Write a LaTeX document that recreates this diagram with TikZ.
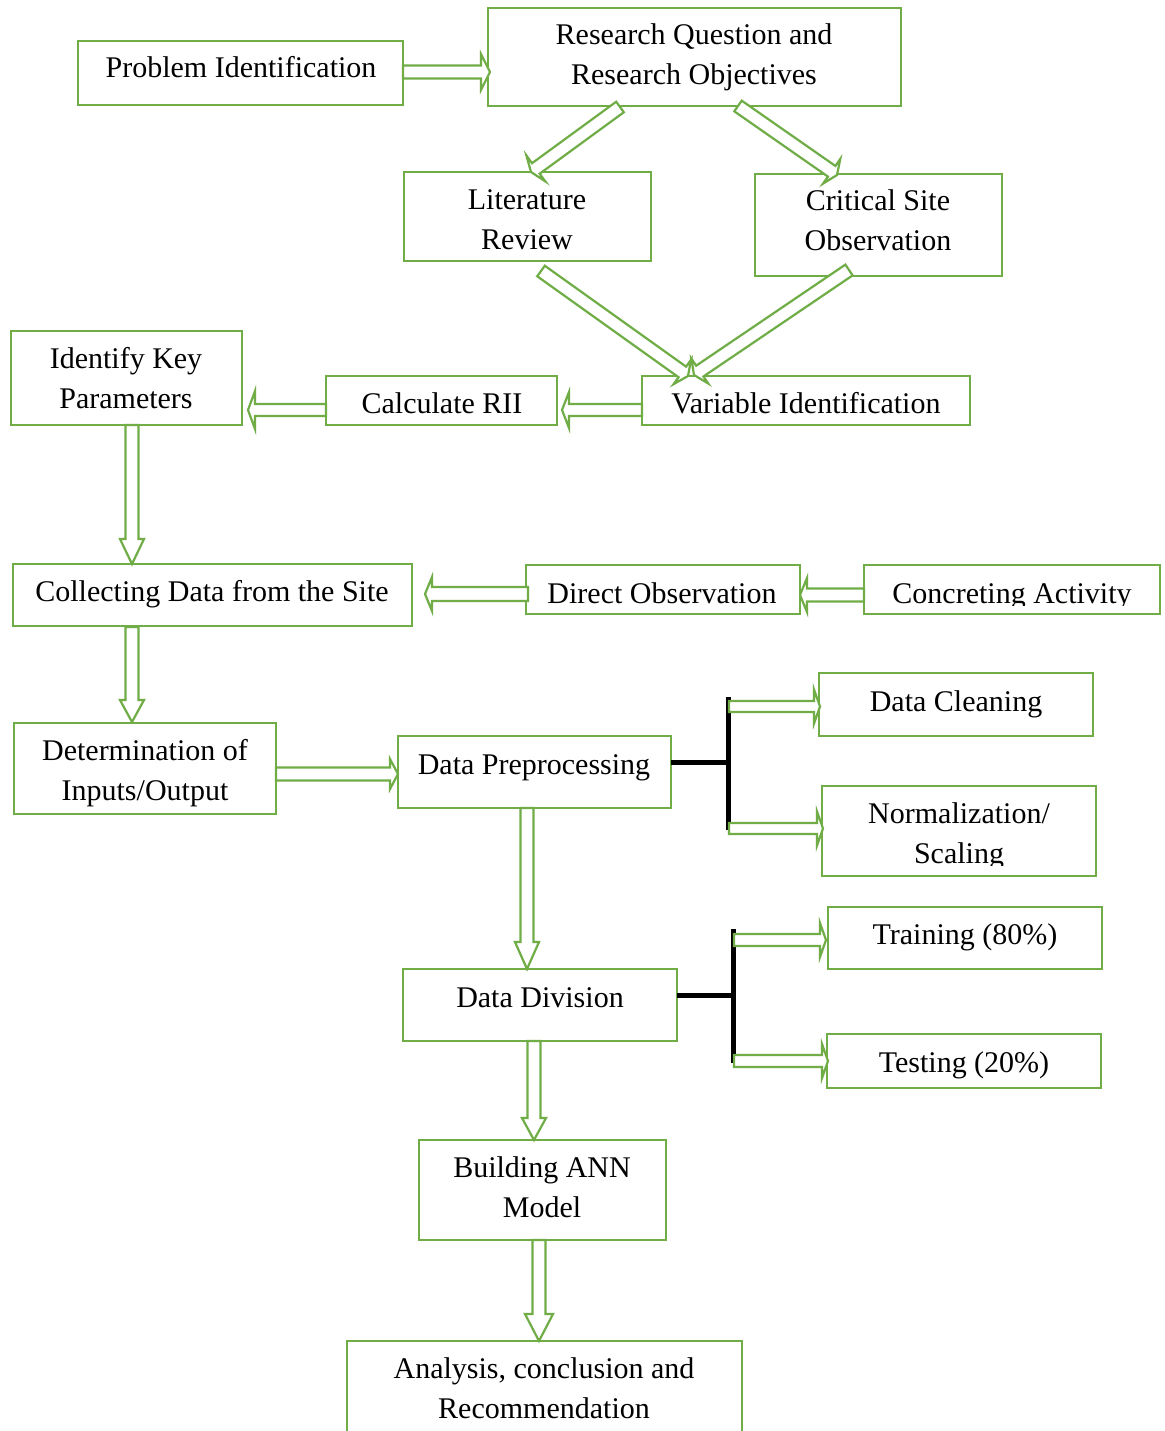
\documentclass[tikz,border=0pt]{standalone}
\usepackage{fontspec}
\setmainfont{Liberation Serif}
\usetikzlibrary{calc}

\definecolor{leaf}{HTML}{70AD47}

\tikzset{
  box/.style={draw=leaf, line width=2.2pt, rectangle, anchor=north west,
    inner sep=0pt, outer sep=0pt},
  label text/.style={font=\fontsize{30}{40}\selectfont, align=center,
    anchor=base, inner sep=0pt},
  hollow arrow/.style={draw=leaf, fill=white, line width=2.2pt, line join=miter},
  bracket/.style={draw=black, line width=5pt}
}

% hollow block arrow: tail, tip, shaft half-width, head half-width, head length
\newcommand\blockarrow[5]{%
  \coordinate (neck) at ($(#2)!#5!(#1)$);
  \path[hollow arrow]
    ($(#1)!#3!90:(#2)$) -- ($(neck)!#3!90:(#2)$) -- ($(neck)!#4!90:(#2)$)
    -- (#2) -- ($(neck)!#4!-90:(#2)$) -- ($(neck)!#3!-90:(#2)$)
    -- ($(#1)!#3!-90:(#2)$) -- cycle;
}

\begin{document}
\begin{tikzpicture}[x=1pt, y=-1pt]
\clip (0,0) rectangle (1164,1431);
\fill[white] (0,0) rectangle (1164,1431);

% boxes
\node[box, minimum width=325pt, minimum height=64pt] (pi) at (78,41) {};
\node[box, minimum width=413pt, minimum height=98pt] (rq) at (488,8) {};
\node[box, minimum width=247pt, minimum height=89pt] (lr) at (404,172) {};
\node[box, minimum width=247pt, minimum height=102pt] (cso) at (755,174) {};
\node[box, minimum width=328pt, minimum height=49pt] (vi) at (642,376) {};
\node[box, minimum width=231pt, minimum height=49pt] (crii) at (326,376) {};
\node[box, minimum width=231pt, minimum height=94pt] (ikp) at (11,331) {};
\node[box, minimum width=399pt, minimum height=62pt] (cd) at (13,564) {};
\node[box, minimum width=274pt, minimum height=49pt] (do) at (526,565) {};
\node[box, minimum width=296pt, minimum height=49pt] (ca) at (864,565) {};
\node[box, minimum width=262pt, minimum height=91pt] (dio) at (14,723) {};
\node[box, minimum width=273pt, minimum height=72pt] (dp) at (398,736) {};
\node[box, minimum width=274pt, minimum height=63pt] (dc) at (819,673) {};
\node[box, minimum width=274pt, minimum height=90pt] (ns) at (822,786) {};
\node[box, minimum width=274pt, minimum height=72pt] (dd) at (403,969) {};
\node[box, minimum width=274pt, minimum height=62pt] (tr) at (828,907) {};
\node[box, minimum width=274pt, minimum height=54pt] (te) at (827,1034) {};
\node[box, minimum width=247pt, minimum height=100pt] (bann) at (419,1140) {};
\node[box, minimum width=395pt, minimum height=120pt] (an) at (347,1341) {};

% labels (anchor at the baseline of the last line)
\node[label text] (pi-t) at (241,78) {Problem Identification};
\node[label text] (rq-t) at (694,85) {Research Question and\\Research Objectives};
\node[label text] (lr-t) at (527,250) {Literature\\Review};
\node[label text] (cso-t) at (878,251) {Critical Site\\Observation};
\node[label text] (vi-t) at (806,413) {Variable Identification};
\node[label text] (crii-t) at (442,413) {Calculate RII};
\node[label text] (ikp-t) at (126,408) {Identify Key\\Parameters};
\node[label text] (cd-t) at (212,601) {Collecting Data from the Site};
\node[label text] (do-t) at (662,603) {Direct Observation};
\begin{scope}
  \clip (864,565) rectangle (1160,605);
  \node[label text] (ca-t) at (1012,603) {Concreting Activity};
\end{scope}
\node[label text] (dio-t) at (145,800) {Determination of\\Inputs/Output};
\node[label text] (dp-t) at (534,774) {Data Preprocessing};
\node[label text] (dc-t) at (956,711) {Data Cleaning};
\begin{scope}
  \clip (822,786) rectangle (1096,865);
  \node[label text] (ns-t) at (959,863) {Normalization/\\Scaling};
\end{scope}
\node[label text] (dd-t) at (540,1007) {Data Division};
\node[label text] (tr-t) at (965,944) {Training (80\%)};
\node[label text] (te-t) at (964,1072) {Testing (20\%)};
\node[label text] (bann-t) at (542,1217) {Building ANN\\Model};
\node[label text] (an-t) at (544,1418) {Analysis, conclusion and\\Recommendation};

% arrow end points on the box borders
\coordinate (a1s) at (pi.east |- 0,72);
\coordinate (a1e) at (490,72);
\coordinate (a2s) at (620,107);
\coordinate (a2e) at (531,172);
\coordinate (a3s) at (738,106);
\coordinate (a3e) at (837,175);
\coordinate (a4s) at (541,271);
\coordinate (a4e) at (688,376);
\coordinate (a5s) at (849,270);
\coordinate (a5e) at (694,375);
\coordinate (a6s) at (vi.west |- 0,410);
\coordinate (a6e) at (562,410);
\coordinate (a7s) at (crii.west |- 0,410);
\coordinate (a7e) at (248,410);
\coordinate (a8s) at (132,425);
\coordinate (a8e) at (132,564);
\coordinate (a9s) at (528,594);
\coordinate (a9e) at (425,594);
\coordinate (a10s) at (ca.west |- 0,595);
\coordinate (a10e) at (800,595);
\coordinate (a11s) at (132,627);
\coordinate (a11e) at (132,722);
\coordinate (a12s) at (dio.east |- 0,774);
\coordinate (a12e) at (398,774);
\coordinate (a13s) at (527,808);
\coordinate (a13e) at (527,969);
\coordinate (a14s) at (534,1041);
\coordinate (a14e) at (534,1140);
\coordinate (a15s) at (539,1240);
\coordinate (a15e) at (539,1341);

% bracket junctions
\coordinate (dpj) at (728,762);
\coordinate (dpjt) at (728,697);
\coordinate (dpjb) at (728,830);
\coordinate (ddj) at (733,995);
\coordinate (ddjt) at (733,929);
\coordinate (ddjb) at (733,1063);
\coordinate (b1s) at (729,706.5);
\coordinate (b1e) at (820,706.5);
\coordinate (b2s) at (729,828.5);
\coordinate (b2e) at (823,828.5);
\coordinate (b3s) at (734,940);
\coordinate (b3e) at (826,940);
\coordinate (b4s) at (734,1061);
\coordinate (b4e) at (828,1061);

% main flow
\blockarrow{a1s}{a1e}{6.5pt}{18pt}{9pt}
\blockarrow{a2s}{a2e}{6.5pt}{16pt}{6pt}
\blockarrow{a3s}{a3e}{6.5pt}{15pt}{6.5pt}
\blockarrow{a4s}{a4e}{6.5pt}{15pt}{7pt}
\blockarrow{a5s}{a5e}{6.5pt}{15pt}{7pt}
\blockarrow{a6s}{a6e}{6pt}{18pt}{7pt}
\blockarrow{a7s}{a7e}{6pt}{19pt}{7pt}
\blockarrow{a8s}{a8e}{6.5pt}{12pt}{25pt}
\blockarrow{a9s}{a9e}{7pt}{17pt}{7pt}
\blockarrow{a10s}{a10e}{6.5pt}{17pt}{7pt}
\blockarrow{a11s}{a11e}{6.5pt}{12pt}{22pt}
\blockarrow{a12s}{a12e}{6.5pt}{15pt}{8pt}
\blockarrow{a13s}{a13e}{6.5pt}{12pt}{27pt}
\blockarrow{a14s}{a14e}{6.5pt}{12pt}{22pt}
\blockarrow{a15s}{a15e}{6.5pt}{14pt}{27pt}

% branches
\draw[bracket] (dp.east |- dpj) -- (dpj);
\draw[bracket] (dpjt) -- (dpjb);
\draw[bracket] (dd.east |- ddj) -- (ddj);
\draw[bracket] (ddjt) -- (ddjb);
\blockarrow{b1s}{b1e}{5.5pt}{17pt}{6pt}
\blockarrow{b2s}{b2e}{5.5pt}{17pt}{6pt}
\blockarrow{b3s}{b3e}{6pt}{17pt}{6pt}
\blockarrow{b4s}{b4e}{6pt}{17pt}{6pt}
\end{tikzpicture}
\end{document}
